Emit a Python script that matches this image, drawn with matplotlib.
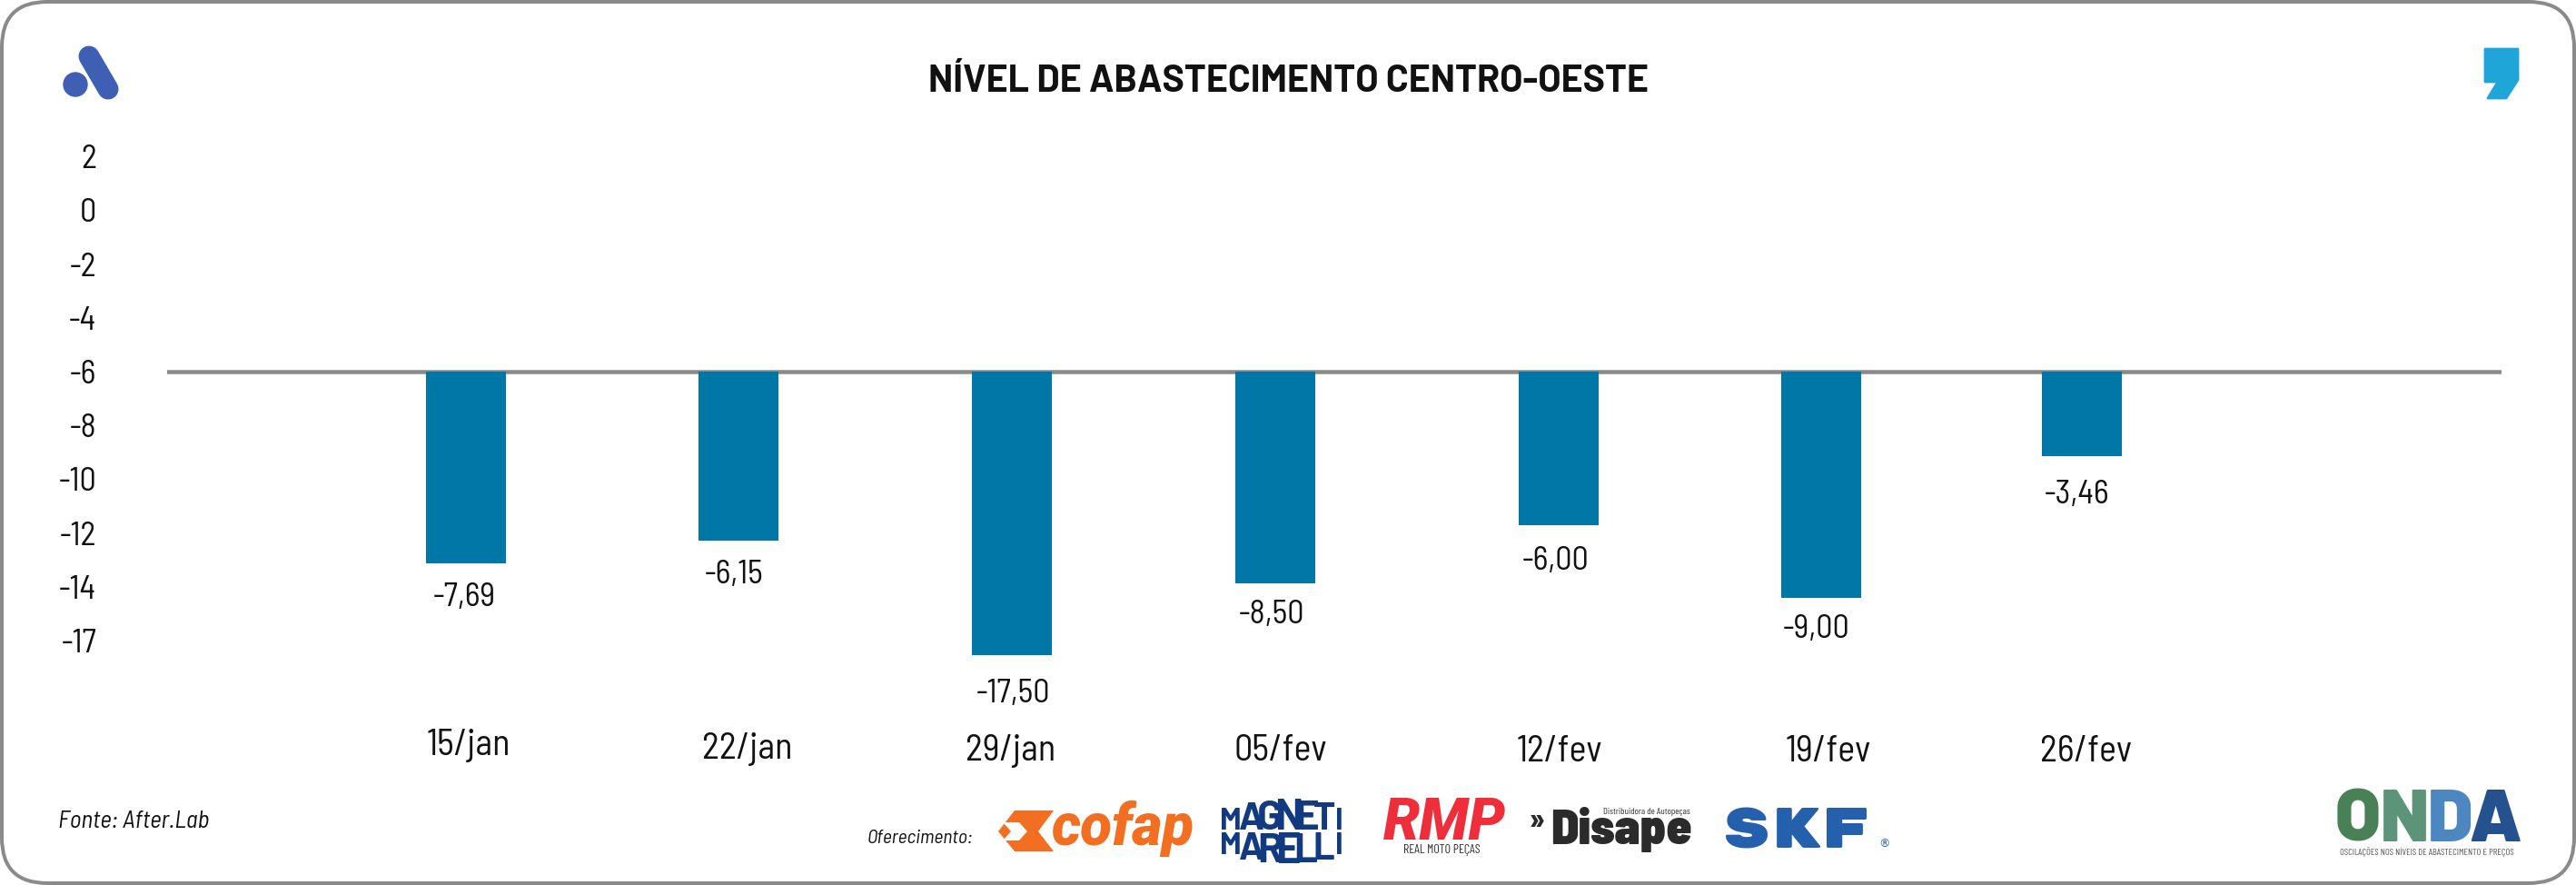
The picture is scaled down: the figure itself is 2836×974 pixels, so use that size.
import matplotlib
matplotlib.use("Agg")
import matplotlib.pyplot as plt
from matplotlib.patches import FancyBboxPatch, Polygon, Ellipse

# ---- data -------------------------------------------------------------
title = "NÍVEL DE ABASTECIMENTO CENTRO-OESTE"
dates = ["15/jan", "22/jan", "29/jan", "05/fev", "12/fev", "19/fev", "26/fev"]
value_labels = ["-7,69", "-6,15", "-17,50", "-8,50", "-6,00", "-9,00", "-3,46"]
# bar ends as read on the printed axis (the original's bars are hand-placed)
bar_ends = [-13.13, -12.28, -16.54, -13.87, -11.71, -14.41, -9.14]
baseline = -6
y_ticks = [2, 0, -2, -4, -6, -8, -10, -12, -14, -16]
y_tick_labels = ["2", "0", "-2", "-4", "-6", "-8", "-10", "-12", "-14", "-17"]

# ---- layout (hand placement in the original) -----------------------------
W, H = 2836, 974
bar_x = [0, 1.011, 2.025, 3.002, 4.053, 5.027, 5.993]
tick_x = [0.01, 1.045, 2.02, 3.02, 4.055, 5.055, 6.01]
label_dx = [-2, -5, 1, -4, -3, -5, -5]       # px
label_gap = [37, 38, 43, 35, 39, 35, 43]     # px
tick_pad_px = [62, 66, 68, 68, 69, 69, 69]
PX = 0.72  # px -> pt at dpi 100
COND = ["Barlow Condensed", "Roboto", "DejaVu Sans"]
SEMI = ["Barlow Semi Condensed", "Roboto", "DejaVu Sans"]
BARLOW = ["Barlow", "Roboto", "DejaVu Sans"]
BLUE = "#0077a6"
GREY = "#8a8a8a"
INK = "#111111"

fig = plt.figure(figsize=(W / 100, H / 100), dpi=100, facecolor="white")

# decoration layer in pixel coordinates
bg = fig.add_axes([0, 0, 1, 1], zorder=0)
bg.set_xlim(0, W); bg.set_ylim(H, 0); bg.axis("off")
bg.add_patch(FancyBboxPatch((2, 2), W - 4, H - 4, boxstyle="round,pad=0,rounding_size=50",
                            fc="white", ec=GREY, lw=4 * PX))

# chart
ax_l, ax_r, ax_t, ax_b = 184, 2754, 150, 740
ax = fig.add_axes([ax_l / W, 1 - ax_b / H, (ax_r - ax_l) / W, (ax_b - ax_t) / H], zorder=1)
ax.patch.set_alpha(0)
u = 296.8
ax.set_xlim((ax_l - 513) / u, (ax_r - 513) / u)
ppu = 29.6
ax.set_ylim(-6 - (ax_b - 409) / ppu, -6 - (ax_t - 409) / ppu)
for s in ax.spines.values():
    s.set_visible(False)
ax.axhline(baseline, color=GREY, lw=4.5 * PX, zorder=1)
ax.bar(bar_x, [e - baseline for e in bar_ends], bottom=baseline, width=88 / u, color=BLUE, zorder=2)

ax.set_yticks(y_ticks, y_tick_labels, family=SEMI, fontsize=26, color=INK)
ax.tick_params(axis="y", length=0, pad=78 * PX)
for lab in ax.get_yticklabels():
    lab.set_va("center_baseline")
ax.set_xticks(tick_x, dates, family=SEMI, fontsize=29, color=INK)
ax.tick_params(axis="x", length=0)
for t, p in zip(ax.xaxis.get_major_ticks(), tick_pad_px):
    t.set_pad(p * PX)
for x, e, lab, dx, gap in zip(bar_x, bar_ends, value_labels, label_dx, label_gap):
    ax.annotate(lab, (x, e), xytext=(dx * PX, -gap * PX), textcoords="offset points",
                ha="center", va="center", family=SEMI, fontsize=26, color=INK)

def T(x, y, s, **kw):
    kw.setdefault("ha", "center"); kw.setdefault("va", "center")
    return bg.text(x, y, s, **kw)

T(1418, 90, title, family=BARLOW, fontweight="bold", fontsize=29.5, color=INK)
T(64, 904, "Fonte: After.Lab", ha="left", family=SEMI, style="italic", fontsize=19.5, color=INK)
T(955, 922, "Oferecimento:", ha="left", family=SEMI, style="italic", fontsize=15.5, color=INK)

# top-left logo
bg.plot([98, 119], [62, 98], color="#3f5fb5", lw=23 * PX, solid_capstyle="round")
bg.add_patch(Ellipse((83, 93), 26, 26, color="#3f5fb5"))
# top-right comma
bg.add_patch(Polygon([(2736, 54), (2772, 54), (2772, 88), (2759, 108), (2739, 108), (2750, 90), (2736, 90)],
                     closed=True, fc="#1fa5d8", ec="#1fa5d8", lw=2, joinstyle="round"))

# cofap
OR = "#f26f21"
bg.add_patch(Polygon([(1099, 915), (1117, 892), (1160, 892), (1143, 915), (1160, 937), (1117, 937)], closed=True, fc=OR, ec="none"))
bg.add_patch(Polygon([(1104, 905), (1122, 905), (1131, 915), (1122, 925), (1104, 925), (1113, 915)], closed=True, fc="white", ec="none"))
T(1236, 912, "cofap", family=["Roboto"], fontweight="black", style="italic", fontsize=46, color=OR)

# Magneti Marelli (letters follow the oval outline)
NV = "#123a80"
sizes = [24, 30, 33, 34, 33, 30, 24]
top_x = [1355, 1378, 1398, 1419, 1439, 1458, 1474]
bot_x = [1355, 1378, 1398, 1418, 1437, 1457, 1474]
for a, b, xa, xb, s in zip("MAGNETI", "MARELLI", top_x, bot_x, sizes):
    T(xa, 913, a, va="baseline", family=BARLOW, fontweight="bold", fontsize=s, color=NV)
    T(xb, 917 + s * 1.39 * 0.7, b, va="baseline", family=BARLOW, fontweight="bold", fontsize=s, color=NV)

# RMP
T(1590, 906, "RMP", family=["Roboto"], fontweight="black", style="italic", fontsize=46, color="#ee2e3a")
T(1587, 936, "REAL MOTO PEÇAS", family=COND, fontsize=10, color="#333333")

# Disape
T(1692, 905, "»", family=BARLOW, fontweight="bold", fontsize=26, color="#2b2b2b")
T(1785, 913, "Disape", family=SEMI, fontweight="black", fontsize=40, color="#2b2b2b")
T(1813, 893, "Distribuidora de Autopeças", family=COND, fontsize=7.5, color="#333333")

# SKF
T(1977, 912, "SKF", family=["Rubik Mono One", "Krona One", "DejaVu Sans"], fontsize=46, color="#2560ad")
T(2075, 929, "®", family="DejaVu Sans", fontsize=9, color="#2560ad")

# ONDA
for x, ch, c in zip([2596, 2647, 2698, 2747], "ONDA", ["#4a8055", "#5b9478", "#4d87bf", "#26518f"]):
    T(x, 905, ch, family=BARLOW, fontweight="black", fontsize=58, color=c)
T(2672, 938, "OSCILAÇÕES NOS NÍVEIS DE ABASTECIMENTO E PREÇOS", family=COND, fontsize=7.5, color="#555555")

fig.savefig("out.png", dpi=100, facecolor="white")
